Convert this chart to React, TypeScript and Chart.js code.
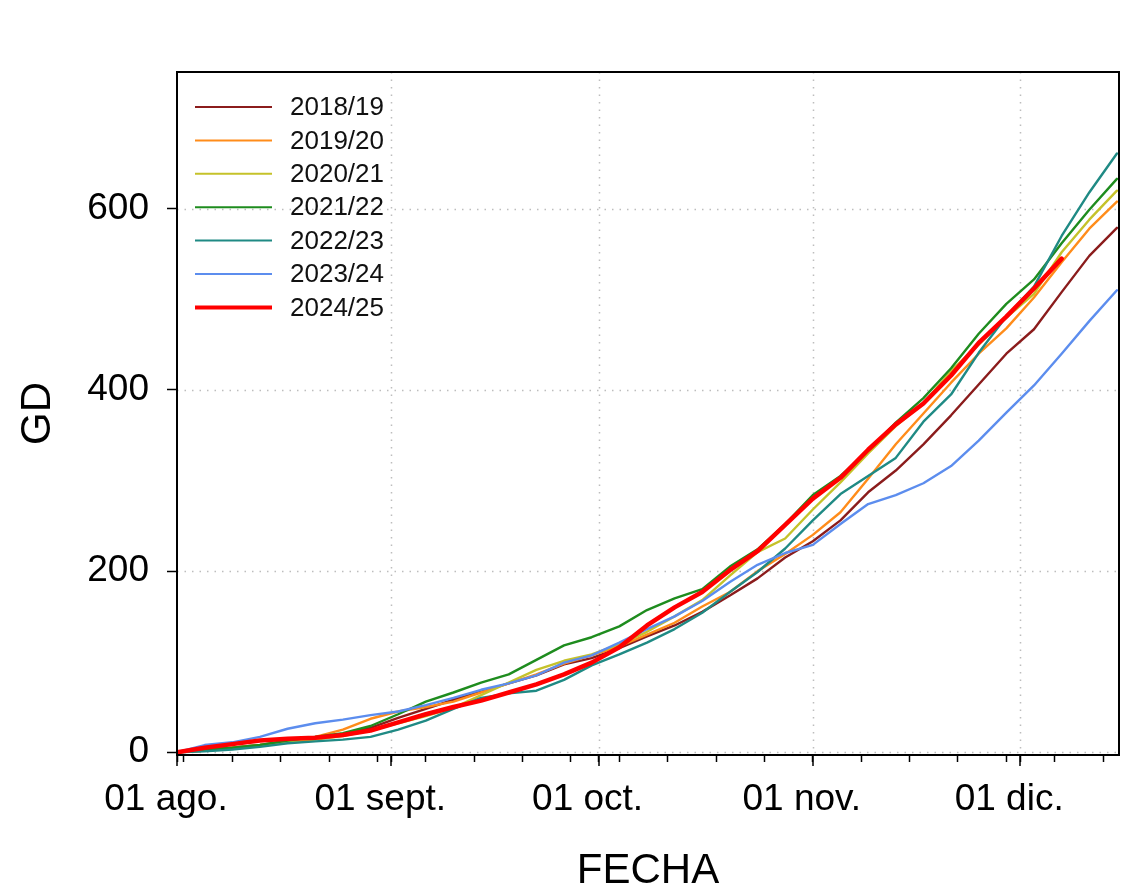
import { useEffect, useRef } from "react";
import { Chart, registerables } from "chart.js";

Chart.register(...registerables);

// Day offsets counted from 1 August; one reading every four days.
const DAYS = [
  0, 4, 8, 12, 16, 20, 24, 28, 32, 36, 40, 44, 48, 52, 56, 60, 64, 68, 72, 76,
  80, 84, 88, 92, 96, 100, 104, 108, 112, 116, 120, 124, 128, 132, 136,
];

const SEASONS = ["2018/19", "2019/20", "2020/21", "2021/22", "2022/23", "2023/24", "2024/25"];
const COLORS = ["#8B1C1C", "#FF8C1A", "#C5C22A", "#1E8C1E", "#1F8A84", "#5C8DEE", "#FF0000"];
const WIDTHS = [2.4, 2.4, 2.4, 2.4, 2.4, 2.4, 4.5];

// Accumulated growing degrees (GD) per season
const GD_2018 = [0, 2, 5, 8, 12, 16, 20, 27, 38, 48, 58, 67, 76, 85, 97, 104, 115, 128, 140, 155, 173, 192, 215, 233, 256, 287, 311, 340, 372, 406, 440, 467, 508, 548, 579];
const GD_2019 = [0, 2, 5, 8, 12, 17, 25, 37, 45, 50, 56, 66, 76, 86, 98, 107, 117, 130, 143, 161, 177, 200, 219, 240, 265, 302, 340, 374, 408, 440, 468, 502, 541, 578, 608];
const GD_2020 = [0, 2, 4, 7, 11, 14, 18, 24, 32, 40, 49, 63, 77, 91, 101, 108, 119, 133, 150, 168, 195, 221, 236, 268, 298, 330, 360, 385, 421, 450, 480, 506, 552, 588, 620];
const GD_2021 = [0, 3, 5, 8, 13, 17, 21, 29, 42, 56, 66, 77, 86, 102, 118, 127, 139, 157, 170, 180, 205, 224, 252, 284, 305, 333, 364, 391, 424, 462, 495, 522, 562, 599, 633];
const GD_2022 = [0, 1, 3, 6, 10, 12, 14, 17, 25, 35, 48, 60, 65, 68, 80, 96, 108, 121, 136, 154, 177, 199, 225, 256, 285, 305, 325, 365, 395, 441, 481, 514, 570, 618, 661];
const GD_2023 = [0, 8, 11, 17, 26, 32, 36, 41, 45, 52, 60, 69, 76, 85, 99, 107, 121, 136, 150, 167, 188, 207, 220, 229, 252, 274, 284, 297, 316, 344, 375, 405, 440, 476, 510];
const GD_2024 = [0, 5, 9, 13, 15, 16, 19, 24, 33, 42, 50, 57, 66, 75, 86, 99, 116, 140, 160, 177, 201, 222, 251, 280, 303, 334, 362, 385, 416, 452, 481, 512, 545];

const SERIES = [GD_2018, GD_2019, GD_2020, GD_2021, GD_2022, GD_2023, GD_2024];

// Axis ticks
const Y_TICKS = [0, 200, 400, 600];
const MONTH_DAYS = [0, 31, 61, 92, 122];
const MONTH_LABELS = ["01 ago.", "01 sept.", "01 oct.", "01 nov.", "01 dic."];
const WEEK_DAYS = [1, 8, 15, 22, 29, 36, 43, 50, 57, 64, 71, 78, 85, 92, 99, 106, 113, 120, 127, 134];

const FONT = "'Liberation Sans', Arial, Helvetica, sans-serif";

const X_TICKS = Array.from(new Set([...MONTH_DAYS, ...WEEK_DAYS])).sort((a, b) => a - b);

// Dotted grid, plot frame, longer month ticks and in-plot legend
const framePlugin = {
  id: "frame",
  beforeDatasetsDraw(chart: any) {
    const { ctx, chartArea: a, scales } = chart;
    const x = scales.x;
    const y = scales.y;
    ctx.save();
    ctx.strokeStyle = "#bdbdbd";
    ctx.lineWidth = 1.5;
    ctx.setLineDash([1.5, 6]);
    MONTH_DAYS.slice(1).forEach((d) => {
      const px = Math.round(x.getPixelForValue(d)) + 0.5;
      ctx.beginPath();
      ctx.moveTo(px, a.top);
      ctx.lineTo(px, a.bottom);
      ctx.stroke();
    });
    Y_TICKS.forEach((v) => {
      const py = Math.round(y.getPixelForValue(v)) + 0.5;
      ctx.beginPath();
      ctx.moveTo(a.left, py);
      ctx.lineTo(a.right, py);
      ctx.stroke();
    });
    ctx.restore();
  },
  afterDatasetsDraw(chart: any) {
    const { ctx, chartArea: a, scales } = chart;
    ctx.save();
    // legend
    const lx0 = a.left + 18;
    const lx1 = a.left + 95;
    const tx = a.left + 113;
    ctx.font = `26px ${FONT}`;
    ctx.textBaseline = "middle";
    ctx.textAlign = "left";
    SEASONS.forEach((s, i) => {
      const ly = a.top + 35 + i * 33.4;
      ctx.strokeStyle = COLORS[i];
      ctx.lineWidth = i === SEASONS.length - 1 ? 4 : 2;
      ctx.setLineDash([]);
      ctx.beginPath();
      ctx.moveTo(lx0, ly);
      ctx.lineTo(lx1, ly);
      ctx.stroke();
      ctx.fillStyle = "#111";
      ctx.fillText(s, tx, ly + 1);
    });
    // month-start ticks are a little longer than the weekly ones
    ctx.strokeStyle = "#000";
    ctx.lineWidth = 1.5;
    MONTH_DAYS.forEach((d) => {
      const px = Math.round(scales.x.getPixelForValue(d));
      ctx.beginPath();
      ctx.moveTo(px, a.bottom);
      ctx.lineTo(px, a.bottom + 11);
      ctx.stroke();
    });
    // frame
    ctx.lineWidth = 2;
    ctx.strokeRect(a.left, a.top, a.right - a.left, a.bottom - a.top);
    ctx.restore();
  },
};

export default function App() {
  const ref = useRef<HTMLCanvasElement>(null);

  useEffect(() => {
    if (!ref.current) return;
    const datasets = SERIES.map((vals, i) => ({
      label: SEASONS[i],
      data: vals.map((v, k) => ({ x: DAYS[k], y: v })),
      borderColor: COLORS[i],
      backgroundColor: COLORS[i],
      borderWidth: WIDTHS[i],
      borderJoinStyle: "round",
      borderCapStyle: "round",
      pointRadius: 0,
      tension: 0,
      order: SEASONS.length - 1 - i,
    }));

    const chart = new Chart(ref.current, {
      type: "line",
      data: { datasets },
      options: {
        animation: false,
        responsive: false,
        maintainAspectRatio: false,
        devicePixelRatio: 1,
        layout: { padding: { left: 0, top: 72, right: 21, bottom: 0 } },
        plugins: { legend: { display: false }, tooltip: { enabled: false } },
        scales: {
          x: {
            type: "linear",
            min: 0,
            max: 136.3,
            afterFit: (s: any) => {
              s.height = 137;
            },
            afterBuildTicks: (s: any) => {
              s.ticks = X_TICKS.map((v) => ({ value: v }));
            },
            border: { display: false },
            grid: {
              drawOnChartArea: false,
              drawTicks: true,
              tickLength: 7,
              tickColor: "#000",
              tickWidth: 1.5,
              color: "#000",
            },
            ticks: {
              autoSkip: false,
              maxRotation: 0,
              minRotation: 0,
              padding: 16,
              labelOffset: -11,
              color: "#000",
              font: { size: 37, family: FONT },
              callback: (value: any) => {
                const k = MONTH_DAYS.indexOf(Number(value));
                return k >= 0 ? MONTH_LABELS[k] : "";
              },
            },
            title: {
              display: true,
              text: "FECHA",
              color: "#000",
              font: { size: 42, family: FONT, lineHeight: 1 },
              padding: { top: 0, bottom: 0 },
            },
          },
          y: {
            type: "linear",
            min: -3,
            max: 751,
            afterFit: (s: any) => {
              s.width = 177;
            },
            afterBuildTicks: (s: any) => {
              s.ticks = Y_TICKS.map((v) => ({ value: v }));
            },
            border: { display: false },
            grid: {
              drawOnChartArea: false,
              drawTicks: true,
              tickLength: 10,
              tickColor: "#000",
              tickWidth: 1.5,
              color: "#000",
            },
            ticks: {
              padding: 18,
              color: "#000",
              font: { size: 37, family: FONT },
            },
            title: {
              display: true,
              text: "GD",
              color: "#000",
              font: { size: 42, family: FONT, lineHeight: 1 },
              padding: { top: 17, bottom: 0 },
            },
          },
        },
      },
      plugins: [framePlugin],
    } as any);

    return () => chart.destroy();
  }, []);

  return (
    <div style={{ position: "fixed", left: 0, top: 0, width: 1140, height: 892, background: "#fff" }}>
      <canvas ref={ref} width={1140} height={892} style={{ display: "block" }} />
    </div>
  );
}
